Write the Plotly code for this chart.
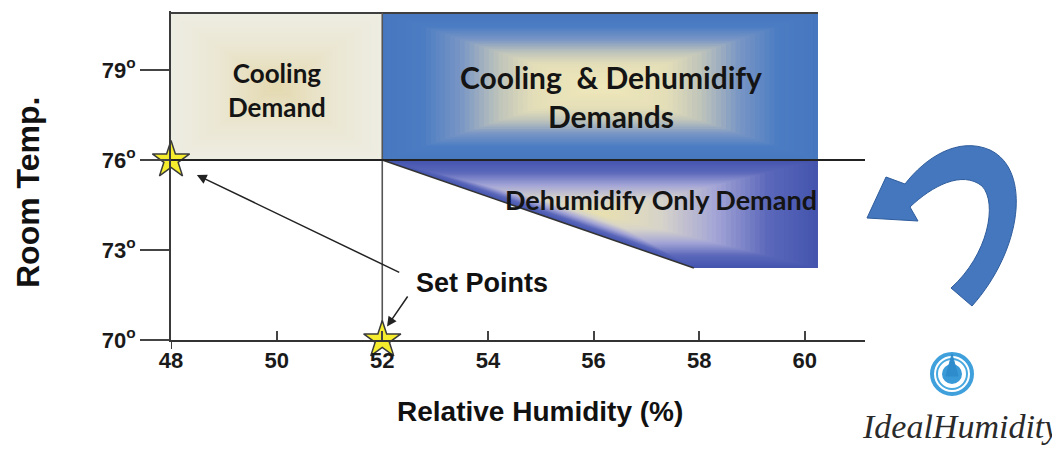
import numpy as np
import plotly.graph_objects as go
from plotly.colors import sample_colorscale

# ---------------- data ----------------
rh_ticks = [48, 50, 52, 54, 56, 58, 60]
temp_ticks = [70, 73, 76, 79]
temp_tick_labels = [f"{t}<sup>o</sup>" for t in temp_ticks]

set_points_rh = [48, 52]
set_points_temp = [76, 70]

cooling_rh = [48, 52, 52, 48]
cooling_temp = [76, 76, 80.9, 80.9]
cool_dehum_rh = [52, 60.25, 60.25, 52]
cool_dehum_temp = [76, 76, 80.9, 80.9]
dehum_rh = [52, 60.25, 60.25, 57.9]
dehum_temp = [76, 76, 72.4, 72.4]

region_labels = ["Cooling<br>Demand",
                 "Cooling\u00a0 & Dehumidify<br>Demands",
                 "Dehumidify Only Demand"]
region_label_rh = [50.0, 56.33, 57.28]
region_label_temp = [78.33, 78.13, 74.67]

# ---------------- layout constants ----------------
W, H = 1052, 456
L, R, T, B = 171, 187, 11, 116
XR = [48, 61.14]
YR = [70, 80.967]
PW, PH = W - L - R, H - T - B

SANS = "Liberation Sans, Arial, sans-serif"
CAL = "Lato, Carlito, Open Sans, sans-serif"


def px(xp):
    return (xp - L) / PW


def py(yp):
    return (H - B - yp) / PH


fig = go.Figure()


def gradient_region(xs, ys, scale, n=45):
    xs, ys = np.array(xs, float), np.array(ys, float)
    cx = (xs.min() + xs.max()) / 2
    cy = (ys.min() + ys.max()) / 2
    cols = sample_colorscale(scale, list(np.linspace(0, 1, n)))
    for i in range(n):
        s = 1 - i / n
        fig.add_trace(go.Scatter(
            x=list(cx + s * (xs - cx)), y=list(cy + s * (ys - cy)),
            fill="toself", fillcolor=cols[i], mode="none",
            hoverinfo="skip", showlegend=False))


gradient_region(cooling_rh, cooling_temp,
                [[0, "#EEEDE3"], [0.45, "#EBE7D3"], [1, "#E4D9B0"]])
gradient_region(cool_dehum_rh, cool_dehum_temp,
                [[0, "#4677BF"], [0.18, "#4C7DC3"], [0.36, "#7A96C4"],
                 [0.54, "#C0C5BB"], [0.7, "#E4DEB8"], [1, "#EFE8BA"]])
gradient_region(dehum_rh, dehum_temp,
                [[0, "#4555AE"], [0.22, "#5A67BA"], [0.47, "#A4A5D6"],
                 [0.72, "#D6D3CA"], [1, "#E8E0B0"]])

# outline lines
fig.add_trace(go.Scatter(x=[cooling_rh[3], cool_dehum_rh[1]],
                         y=[cooling_temp[3], cool_dehum_temp[2]],
                         mode="lines", line=dict(color="#3f3f3f", width=2),
                         hoverinfo="skip", showlegend=False))
fig.add_trace(go.Scatter(x=[set_points_rh[1], set_points_rh[1]],
                         y=[YR[0], cooling_temp[2]],
                         mode="lines", line=dict(color="#555555", width=1.6),
                         hoverinfo="skip", showlegend=False))
fig.add_trace(go.Scatter(x=[dehum_rh[0], dehum_rh[3]],
                         y=[dehum_temp[0], dehum_temp[3]],
                         mode="lines", line=dict(color="#333333", width=1.5),
                         hoverinfo="skip", showlegend=False))

# horizontal 76 line full width
fig.add_shape(type="line", xref="paper", x0=0, x1=1, yref="y",
              y0=set_points_temp[0], y1=set_points_temp[0],
              line=dict(color="#222222", width=2))
# y-axis extension below x axis
fig.add_shape(type="line", xref="x", x0=XR[0], x1=XR[0], yref="paper",
              y0=0, y1=-9 / PH, line=dict(color="#3a3a3a", width=2))

# stars
fig.add_trace(go.Scatter(x=set_points_rh, y=set_points_temp, mode="markers",
                         marker=dict(symbol="star", size=28, color="#F4EC2C",
                                     line=dict(color="#3a3a3a", width=1.5)),
                         cliponaxis=False, hoverinfo="skip", showlegend=False))

# region labels
for lab, xx, yy, sz in zip(region_labels, region_label_rh, region_label_temp, [26, 30, 27]):
    fig.add_annotation(x=xx, y=yy, text=f"<b>{lab}</b>", showarrow=False,
                       font=dict(family=CAL, size=sz, color="#141414"))

# Set Points label and arrows
fig.add_annotation(x=53.89, y=71.9, text="<b>Set Points</b>", showarrow=False,
                   font=dict(family=SANS, size=27, color="#111111"))
fig.add_annotation(x=48.49, y=75.5, ax=52.35, ay=72.23, axref="x", ayref="y",
                   text="", showarrow=True, arrowhead=2, arrowsize=1.3,
                   arrowwidth=1.5, arrowcolor="#222222")
fig.add_annotation(x=52.09, y=70.45, ax=52.5, ay=71.5, axref="x", ayref="y",
                   text="", showarrow=True, arrowhead=2, arrowsize=1.3,
                   arrowwidth=1.5, arrowcolor="#222222")

# axis titles
fig.add_annotation(xref="paper", yref="paper", x=px(540), y=py(411),
                   xanchor="center", yanchor="middle",
                   text="<b>Relative Humidity (%)</b>", showarrow=False,
                   font=dict(family=SANS, size=28, color="#111111"))
fig.add_annotation(xref="paper", yref="paper", x=px(28), y=py(193),
                   xanchor="center", yanchor="middle",
                   text="<b>Room Temp.</b>", textangle=-90, showarrow=False,
                   font=dict(family=SANS, size=32, color="#111111"))

# curved blue arrow (decoration)
pts = [("M", [(972, 306)]),
       ("C", [(1022, 250), (1032, 170), (990, 150)]),
       ("C", [(958, 136), (925, 158), (905, 184)]),
       ("L", [(886, 177)]), ("L", [(867, 218)]), ("L", [(918, 221)]),
       ("L", [(910, 207)]),
       ("C", [(932, 186), (962, 170), (982, 186)]),
       ("C", [(998, 203), (988, 255), (951, 288)])]
path = ""
for cmd, ps in pts:
    path += cmd + " " + " ".join(f"{px(a):.5f},{py(b):.5f}" for a, b in ps) + " "
path += "Z"
fig.add_shape(type="path", path=path, xref="paper", yref="paper",
              fillcolor="#4477BE", line=dict(color="#2E5C9C", width=1))

# logo rings
cxl, cyl = 952, 374
for r, col, fc in [(21, "#3FA0DC", "#3FA0DC"), (17, "white", "white"),
                   (15, "#48A8E0", "rgba(0,0,0,0)"), (12, "white", "white"),
                   (9, "#3A9AD8", "#3A9AD8")]:
    fig.add_shape(type="circle", xref="paper", yref="paper",
                  x0=px(cxl - r), x1=px(cxl + r), y0=py(cyl + r), y1=py(cyl - r),
                  fillcolor=fc, line=dict(color=col, width=2))
drop = (f"M {px(cxl):.5f},{py(cyl-20):.5f} L {px(cxl+6):.5f},{py(cyl+2):.5f} "
        f"L {px(cxl-6):.5f},{py(cyl+2):.5f} Z")
fig.add_shape(type="path", path=drop, xref="paper", yref="paper",
              fillcolor="#2E8CCC", line=dict(color="#2E8CCC", width=1))
fig.add_annotation(xref="paper", yref="paper", x=px(860), y=py(426),
                   xanchor="left", yanchor="middle", text="IdealHumidity",
                   showarrow=False,
                   font=dict(family="Liberation Serif, serif", size=34,
                             color="#2a2a2a", style="italic"))

fig.update_layout(
    width=W, height=H, margin=dict(l=L, r=R, t=T, b=B),
    paper_bgcolor="white", plot_bgcolor="white", showlegend=False,
    xaxis=dict(range=XR, tickvals=rh_ticks, ticks="inside", ticklen=9,
               tickwidth=1.5, tickcolor="#444444", showgrid=False,
               zeroline=False, showline=True, linecolor="#333333",
               linewidth=2, ticklabelstandoff=0,
               tickfont=dict(family=SANS, size=22, color="#1a1a1a",
                             weight="bold")),
    yaxis=dict(range=YR, tickvals=temp_ticks, ticktext=temp_tick_labels,
               ticks="outside", ticklen=29, tickwidth=2,
               tickcolor="#444444", showgrid=False, zeroline=False,
               showline=True, linecolor="#3a3a3a", linewidth=2,
               tickfont=dict(family=SANS, size=22, color="#1a1a1a",
                             weight="bold")),
)

fig.write_html("out.html", config={"displayModeBar": False},
               post_script="document.body.style.margin='0px';")
